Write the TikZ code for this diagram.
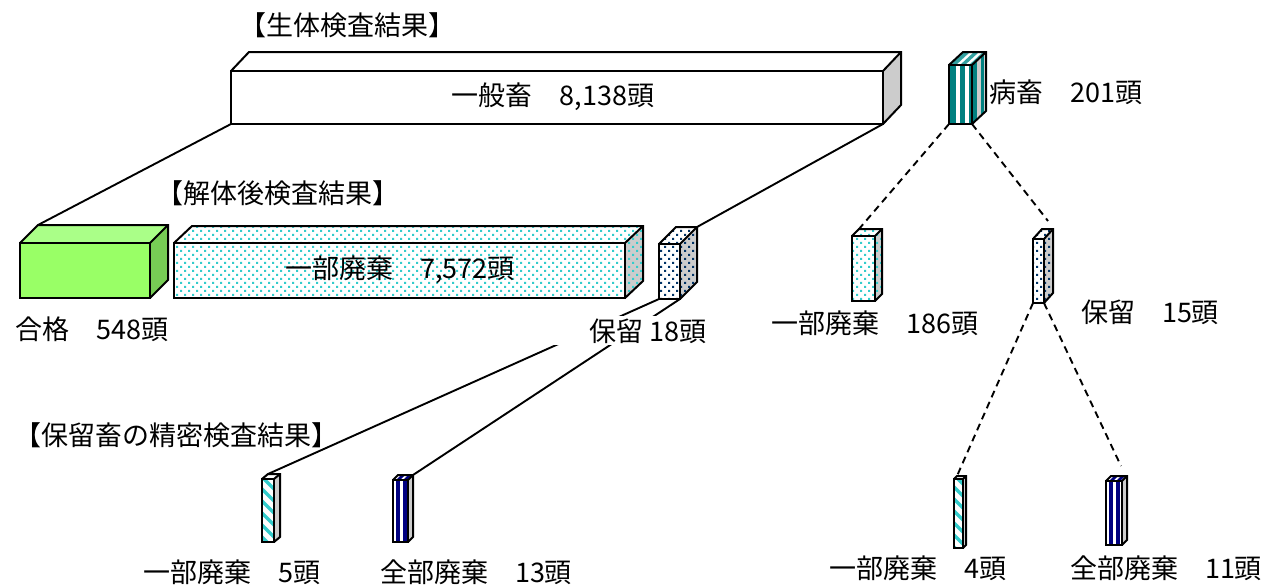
\documentclass[tikz,border=0pt]{standalone}
\usepackage{fontspec}
\newfontfamily\jp{Noto Sans CJK JP}
\usetikzlibrary{patterns}
\pgfdeclarepatternformonly{sdots}{\pgfqpoint{-0.1pt}{-0.1pt}}{\pgfqpoint{8.1pt}{8.1pt}}{\pgfqpoint{8pt}{8pt}}{%
  \pgfpathrectangle{\pgfqpoint{0pt}{0pt}}{\pgfqpoint{2pt}{2pt}}%
  \pgfpathrectangle{\pgfqpoint{4pt}{4pt}}{\pgfqpoint{2pt}{2pt}}%
  \pgfusepath{fill}}
\definecolor{tealA}{HTML}{008080}
\definecolor{tealB}{HTML}{33A0A0}
\definecolor{turq}{HTML}{33CCCC}
\definecolor{navyA}{HTML}{000080}
\definecolor{navyD}{HTML}{003366}
\definecolor{sidegray}{HTML}{CCCCCC}
\definecolor{grF}{HTML}{99FF66}
\definecolor{grT}{HTML}{AAFF88}
\definecolor{grS}{HTML}{77CC55}
% geometry of a box: name, x1, y1, x2, y2 (front face), dx, dy (depth)
\newcommand\cubegeom[7]{%
  \coordinate (#1-ftl) at (#2,#3);
  \coordinate (#1-ftr) at (#4,#3);
  \coordinate (#1-fbl) at (#2,#5);
  \coordinate (#1-fbr) at (#4,#5);
  \coordinate (#1-btl) at ({#2+#6},{#3-#7});
  \coordinate (#1-btr) at ({#4+#6},{#3-#7});
  \coordinate (#1-bbr) at ({#4+#6},{#5-#7});}
\newcommand\cubefaces[4]{%
  \path[#2] (#1-ftl) rectangle (#1-fbr);
  \path[#3] (#1-ftl) -- (#1-ftr) -- (#1-btr) -- (#1-btl) -- cycle;
  \path[#4] (#1-ftr) -- (#1-btr) -- (#1-bbr) -- (#1-fbr) -- cycle;}
\newcommand\cubeoutline[1]{%
  \draw[boxline] (#1-ftl) rectangle (#1-fbr);
  \draw[boxline] (#1-ftl) -- (#1-btl) -- (#1-btr) -- (#1-bbr) -- (#1-fbr);
  \draw[boxline] (#1-ftr) -- (#1-btr);}
% vertical bar on front and top: x1 x2 ytop ybot dx dy frontcolor topcolor
\newcommand\vbar[8]{%
  \fill[#7] (#1,#3) rectangle (#2,#4);
  \fill[#8] (#1,#3) -- (#2,#3) -- ({#2+#5},{#3-#6}) -- ({#1+#5},{#3-#6}) -- cycle;}
\begin{document}
\begin{tikzpicture}[x=1pt,y=-1pt,
  every node/.style={inner sep=0pt, font=\jp\fontsize{27}{30}\selectfont},
  boxline/.style={draw=black, line width=2pt, line join=miter},
  link/.style={line width=1.9pt},
  dlink/.style={line width=1.9pt, dash pattern=on 7pt off 5pt},
  tdotF/.style={fill=white, postaction={pattern=sdots, pattern color=turq}},
  tdotS/.style={fill=sidegray, postaction={pattern=sdots, pattern color=turq}},
  ndotF/.style={fill=white, postaction={pattern=sdots, pattern color=navyD}},
  ndotS/.style={fill=sidegray, postaction={pattern=sdots, pattern color=navyD}}]
\useasboundingbox (0,0) rectangle (1267,584);
\fill[white] (0,0) rectangle (1267,584);

% ---------- geometry ----------
\cubegeom{big}{231}{71}{883}{124}{18}{19}
\cubegeom{byo}{949}{65}{972}{124}{14}{13}
\cubegeom{gok}{20}{243}{150}{298}{18}{18}
\cubegeom{part}{174}{243}{625}{298}{18}{17}
\cubegeom{hold}{659}{244}{680}{299}{17}{17}
\cubegeom{pa}{852}{236}{875}{301}{7}{7}
\cubegeom{hb}{1033}{239}{1044}{303}{9}{10}
\cubegeom{pc}{262}{479}{274}{542}{6}{5}
\cubegeom{ac}{393}{480}{408}{542}{5}{5}
\cubegeom{pd}{954}{479}{963}{548}{3}{3}
\cubegeom{ad}{1106}{481}{1122}{545}{5}{5}
\coordinate (byoend) at (1048,221);
\coordinate (hbend) at (1121,466);

% ---------- connectors ----------
\draw[link] (big-fbl) -- (gok-btl);
\draw[link] (big-fbr) -- (hold-btr);
\draw[link] (hold-fbl) -- (pc-btl);
\draw[link] (hold-fbr) -- (ac-btr);
\draw[dlink] (byo-fbl) -- (pa-btl);
\draw[dlink] (byo-fbr) -- (byoend);
\draw[dlink] (hb-fbl) -- (pd-btl);
\draw[dlink] (hb-fbr) -- (hbend);

% ---------- boxes ----------
\cubefaces{big}{fill=white}{fill=white}{fill=sidegray}
\cubeoutline{big}

\cubefaces{byo}{fill=white}{fill=white}{fill=sidegray}
\vbar{950}{956}{65}{124}{14}{13}{tealA}{tealB}
\vbar{960}{965}{65}{124}{14}{13}{tealA}{tealB}
\vbar{969}{972}{65}{124}{14}{13}{tealA}{tealB}
\begin{scope}
  \clip (byo-ftr) -- (byo-btr) -- (byo-bbr) -- (byo-fbr) -- cycle;
  \fill[tealA] (972,40) rectangle (976.5,130);
  \fill[tealA] (980.5,40) rectangle (984,130);
\end{scope}
\cubeoutline{byo}

\cubefaces{gok}{fill=grF}{fill=grT}{fill=grS}
\cubeoutline{gok}

\cubefaces{part}{tdotF}{tdotF}{tdotS}
\cubeoutline{part}

\cubefaces{hold}{ndotF}{ndotF}{ndotS}
\cubeoutline{hold}

\cubefaces{pa}{tdotF}{tdotF}{tdotS}
\cubeoutline{pa}

\cubefaces{hb}{ndotF}{ndotF}{ndotS}
\cubeoutline{hb}

\cubefaces{pc}{fill=white}{fill=white}{fill=sidegray}
\begin{scope}
  \clip (pc-ftl) rectangle (pc-fbr);
  \foreach \k in {-2,...,7}
    \draw[turq, line width=3.5pt] (250,{465+\k*12}) -- ++(40,40);
\end{scope}
\cubeoutline{pc}

\cubefaces{ac}{fill=white}{fill=white}{fill=sidegray}
\vbar{396}{400}{480}{542}{5}{5}{navyA}{navyA}
\vbar{403}{407}{480}{542}{5}{5}{navyA}{navyA}
\cubeoutline{ac}

\cubefaces{pd}{fill=white}{fill=white}{fill=sidegray}
\begin{scope}
  \clip (pd-ftl) rectangle (pd-fbr);
  \foreach \k in {-2,...,7}
    \draw[turq, line width=3.5pt] (944,{465+\k*12}) -- ++(40,40);
\end{scope}
\cubeoutline{pd}

\cubefaces{ad}{fill=white}{fill=white}{fill=sidegray}
\vbar{1109}{1113}{481}{545}{5}{5}{navyA}{navyA}
\vbar{1116}{1120}{481}{545}{5}{5}{navyA}{navyA}
\cubeoutline{ad}

% ---------- labels ----------
\node (t1) at (347,25) {【生体検査結果】};
\node (l-big) at (553,97) {一般畜　8,138頭};
\node (l-byo) at (1066,92) {病畜　201頭};
\node (t2) at (278,193) {【解体後検査結果】};
\node (l-part) at (400,270) {一部廃棄　7,572頭};
\node (l-gok) at (92,329) {合格　548頭};
\fill[white] (548,316) rectangle (702,345);
\node (l-hold) at (648,331) {保留 18頭};
\node (l-pa) at (875,323) {一部廃棄　186頭};
\node (l-hb) at (1150,312) {保留　15頭};
\node (t3) at (177,435) {【保留畜の精密検査結果】};
\node (l-pc) at (232,572) {一部廃棄　5頭};
\node (l-ac) at (476,572) {全部廃棄　13頭};
\node (l-pd) at (918,568) {一部廃棄　4頭};
\node (l-ad) at (1166,568) {全部廃棄　11頭};
\end{tikzpicture}
\end{document}
